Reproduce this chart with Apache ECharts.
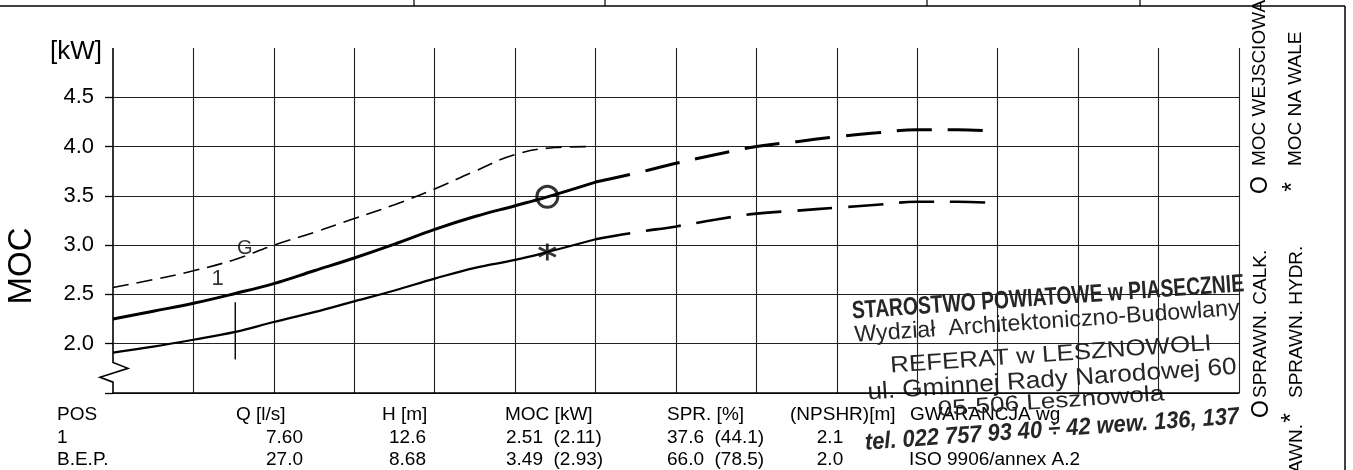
<!DOCTYPE html>
<html><head><meta charset="utf-8">
<script src="https://cdn.jsdelivr.net/npm/echarts@6/dist/echarts.min.js"></script>
<style>html,body{margin:0;padding:0;background:#fff}#c{width:1353px;height:470px}</style>
</head><body><div id="c"></div>
<script>
// ---- data ----
const qSolid      = [0, 2.5, 5, 7.6, 10, 12.5, 15, 17.5, 20, 22.5, 25, 27, 30];
const inputSolid  = [2.25, 2.33, 2.41, 2.51, 2.61, 2.74, 2.87, 3.01, 3.16, 3.29, 3.40, 3.49, 3.64];
const shaftSolid  = [1.91, 1.97, 2.04, 2.12, 2.22, 2.32, 2.43, 2.54, 2.66, 2.77, 2.85, 2.93, 3.06];
const qDashed     = [30, 32.5, 35, 37.5, 40, 42.5, 45, 47.5, 50, 52.5, 54.5];
const inputDashed = [3.64, 3.73, 3.83, 3.92, 4.00, 4.05, 4.10, 4.14, 4.17, 4.17, 4.16];
const shaftDashed = [3.06, 3.13, 3.19, 3.26, 3.32, 3.35, 3.38, 3.41, 3.44, 3.44, 3.43];
const qMaxCurve   = [0, 2.5, 5, 7.5, 10, 12.5, 15, 17.5, 20, 22.5, 25, 27.5, 29.5];
const maxCurve    = [2.57, 2.65, 2.74, 2.85, 3.00, 3.13, 3.27, 3.41, 3.57, 3.75, 3.92, 3.99, 4.00];
const yTickValues  = [1.5, 2.0, 2.5, 3.0, 3.5, 4.0, 4.5];
const yLabelValues = [2.0, 2.5, 3.0, 3.5, 4.0, 4.5];
const pos1 = { q: 7.6, low: 1.84, high: 2.42, labelQ: 6.5, labelP: 2.66 };
const bep  = { q: 27.0, input: 3.49, shaft: 2.93 };
const gMark = { q: 8.2, p: 2.97 };
const axisBreak = [[0, 5.0], [0, 1.81], [0.93, 1.75], [-0.81, 1.66], [0, 1.61], [0, 1.5]];
const tableHeader = ['POS', 'Q [l/s]', 'H [m]', 'MOC [kW]', 'SPR. [%]', '(NPSHR)[m]', 'GWARANCJA wg'];
const tableRow1   = ['1', '7.60', '12.6', '2.51  (2.11)', '37.6  (44.1)', '2.1', ''];
const tableRow2   = ['B.E.P.', '27.0', '8.68', '3.49  (2.93)', '66.0  (78.5)', '2.0', 'ISO 9906/annex A.2'];
const stampLines = ['STAROSTWO POWIATOWE w PIASECZNIE', 'Wydział  Architektoniczno-Budowlany',
  'REFERAT w LESZNOWOLI', 'ul. Gminnej Rady Narodowej 60', '05-506 Lesznowola',
  'tel. 022 757 93 40 ÷ 42 wew. 136, 137'];

const pair = (xs, ys) => xs.map((x, i) => [x, ys[i]]);
const FF = '"Liberation Sans", Arial, sans-serif';
const INK = '#000';

const mctx = document.createElement('canvas').getContext('2d');
function fitScale(text, size, weight, style, width) {
  mctx.font = `${style} ${weight} ${size}px "Liberation Sans"`;
  return width / mctx.measureText(text).width;
}

const graphics = [];
const L = (x1, y1, x2, y2, w) => graphics.push({ type: 'line', silent: true,
  shape: { x1, y1, x2, y2 }, style: { stroke: INK, lineWidth: w || 1.2 } });
L(0, 6, 1345, 6, 1.5); L(414, 0, 414, 6); L(605, 0, 605, 6); L(927, 0, 927, 6); L(1140, 0, 1140, 6);
L(1345, 6, 1345, 470, 1.5);

const T = (text, x, y, o) => graphics.push(Object.assign({ type: 'text', silent: true, x, y,
  style: Object.assign({ text, x: 0, y: 0, fill: INK, fontFamily: FF, fontSize: 19,
    align: 'left', verticalAlign: 'middle' }, o && o.style) }, o && o.el));

T('[kW]', 76, 52, { style: { fontSize: 26, align: 'center' } });
T('MOC', 22, 266, { style: { fontSize: 33, align: 'center' }, el: { rotation: Math.PI / 2 } });

// rotated legend texts on the right
const R = { rotation: Math.PI / 2 };
T('O', 1261, 185, { style: { align: 'center', fontSize: 23 }, el: R });
T('MOC WEJSCIOWA', 1260, 166, { el: R });
T('*', 1293, 187, { style: { align: 'center', fontSize: 25 }, el: R });
T('MOC NA WALE', 1296, 166, { el: R });
T('O', 1262, 409, { style: { align: 'center', fontSize: 23 }, el: R });
T('SPRAWN. CALK.', 1261, 398, { el: R });
T('SPRAWN. HYDR.', 1297, 398, { el: R });
T('*', 1292, 418, { style: { align: 'center', fontSize: 25 }, el: R });
T('SPRAWN.', 1297, 424, { style: { align: 'right' }, el: R });

// table
const headX = [57, 236, 382, 505, 667, 790, 910];
const valX  = [57, 303, 426, 506, 667, 830, 909];
const valAl = ['left', 'right', 'right', 'left', 'left', 'center', 'left'];
const rowY  = [415, 438, 460];
tableHeader.forEach((t, i) => T(t, headX[i], rowY[0]));
[tableRow1, tableRow2].forEach((row, r) => row.forEach((t, i) => {
  if (t) T(t, valX[i], rowY[r + 1], { style: { align: valAl[i] } });
}));

// stamp
const stampGeo = [
  { cx: 1048, cy: 298, w: 393, size: 25, weight: 'bold', style: 'normal' },
  { cx: 1047, cy: 322, w: 386, size: 23, weight: 'normal', style: 'normal' },
  { cx: 1051, cy: 355, w: 322, size: 23, weight: 'normal', style: 'normal' },
  { cx: 1052, cy: 380, w: 370, size: 24, weight: 'normal', style: 'normal' },
  { cx: 1051, cy: 402, w: 227, size: 22, weight: 'normal', style: 'normal' },
  { cx: 1052, cy: 430, w: 375, size: 24, weight: 'bold', style: 'italic' }
];
stampLines.forEach((t, i) => {
  const g = stampGeo[i];
  graphics.push({ type: 'text', silent: true, x: g.cx, y: g.cy, rotation: 4 * Math.PI / 180,
    scaleX: fitScale(t, g.size, g.weight, g.style, g.w),
    style: { text: t, x: 0, y: 0, fill: '#262626', fontFamily: FF, fontSize: g.size,
      fontWeight: g.weight, fontStyle: g.style, align: 'center', verticalAlign: 'middle' } });
});

const chart = echarts.init(document.getElementById('c'), null, { renderer: 'canvas' });
chart.setOption({
  animation: false,
  backgroundColor: '#fff',
  grid: { left: 113, top: 48, right: 114, bottom: 77 },
  xAxis: {
    type: 'value', min: 0, max: 70, interval: 5,
    axisLabel: { show: false }, axisTick: { show: false },
    axisLine: { show: true, lineStyle: { color: INK, width: 1.5 } },
    splitLine: { show: true, showMinLine: false, lineStyle: { color: '#222', width: 1.1 } }
  },
  yAxis: {
    type: 'value', min: 1.5, max: 5.0, interval: 0.5,
    axisLine: { show: false },
    axisTick: { show: true, length: 8, customValues: yTickValues, lineStyle: { color: INK, width: 1.3 } },
    axisLabel: { show: true, customValues: yLabelValues, margin: 19, color: INK, fontSize: 22,
      fontFamily: FF, formatter: v => v.toFixed(1) },
    splitLine: { show: true, lineStyle: { color: '#222', width: 1.1 } }
  },
  series: [
    { type: 'line', data: pair(qMaxCurve, maxCurve), smooth: 0.4, symbol: 'none',
      lineStyle: { color: INK, width: 1.6, type: [16, 8] } },
    { type: 'line', data: pair(qSolid, inputSolid), smooth: 0.4, symbol: 'none',
      lineStyle: { color: INK, width: 3 } },
    { type: 'line', data: pair(qDashed, inputDashed), smooth: 0.4, symbol: 'none',
      lineStyle: { color: INK, width: 3, type: [35, 16] } },
    { type: 'line', data: pair(qSolid, shaftSolid), smooth: 0.4, symbol: 'none',
      lineStyle: { color: INK, width: 2.2 } },
    { type: 'line', data: pair(qDashed, shaftDashed), smooth: 0.4, symbol: 'none',
      lineStyle: { color: INK, width: 2.6, type: [35, 16] } },
    { type: 'line', data: [[pos1.q, pos1.low], [pos1.q, pos1.high]], symbol: 'none',
      lineStyle: { color: INK, width: 1.4 } },
    { type: 'scatter', data: [[bep.q, bep.input]], symbol: 'circle', symbolSize: 21,
      itemStyle: { color: 'rgba(0,0,0,0)', borderColor: INK, borderWidth: 3 } },
    { type: 'scatter', data: [[bep.q, bep.shaft]], symbolSize: 17,
      symbol: 'path://M0,-10L0,10M-8.66,-5L8.66,5M-8.66,5L8.66,-5',
      itemStyle: { color: 'rgba(0,0,0,0)', borderColor: INK, borderWidth: 2.8 } },
    { type: 'scatter', data: [[pos1.labelQ, pos1.labelP]], symbolSize: 0,
      label: { show: true, position: 'inside', formatter: '1', color: INK, fontSize: 22, fontFamily: FF } },
    { type: 'scatter', data: [[gMark.q, gMark.p]], symbolSize: 0,
      label: { show: true, position: 'inside', formatter: 'G', color: INK, fontSize: 20, fontFamily: FF } }
  ],
  graphic: graphics
});

// left axis line with break symbol, positioned through the chart's own scales
const breakPts = axisBreak.map(p => chart.convertToPixel({ gridIndex: 0 }, p));
chart.setOption({ graphic: graphics.concat([{ type: 'polyline', silent: true,
  shape: { points: breakPts }, style: { stroke: INK, lineWidth: 1.6, fill: null } }]) });
</script></body></html>
